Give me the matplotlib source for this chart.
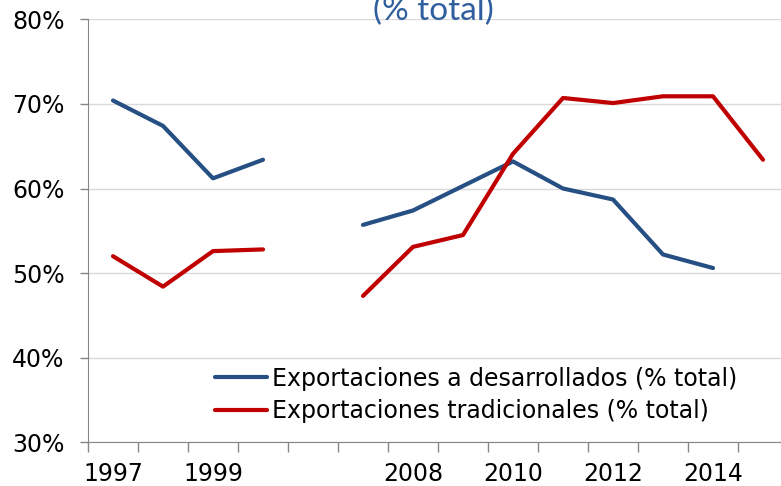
import numpy as np
import matplotlib
matplotlib.use("Agg")
import matplotlib.pyplot as plt

# categories (blank slot between 2000 and 2007 as in the original)
years = ["1997", "1998", "1999", "2000", "", "2007", "2008", "2009",
         "2010", "2011", "2012", "2013", "2014", "2015"]
tick_labels = ["1997", "1999", "", "2008", "2010", "2012", "2014"]

nan = np.nan
desarrollados = [70.4, 67.4, 61.2, 63.4, nan, 55.7, 57.4, 60.3,
                 63.2, 60.0, 58.7, 52.2, 50.6, nan]
tradicionales = [52.0, 48.4, 52.6, 52.8, nan, 47.3, 53.1, 54.5,
                 64.1, 70.7, 70.1, 70.9, 70.9, 63.4]

label_des = "Exportaciones a desarrollados (% total)"
label_tra = "Exportaciones tradicionales (% total)"

plt.rcParams["font.family"] = ["DejaVu Sans"]

W, H = 781, 486
fig = plt.figure(figsize=(W / 100, H / 100), dpi=100)
ax = fig.add_axes([88 / W, 1 - 442.3 / H, 700 / W, (442.3 - 19.3) / H])

x = np.arange(len(years))
ax.plot(x, desarrollados, color="#264F84", lw=3.0, label=label_des,
        solid_joinstyle="round", solid_capstyle="round")
ax.plot(x, tradicionales, color="#C00000", lw=3.0, label=label_tra,
        solid_joinstyle="round", solid_capstyle="round")

ax.set_xlim(-0.5, len(years) - 0.5)
ax.set_ylim(30, 80)
ax.set_yticks(np.arange(30, 81, 10))
ax.set_yticklabels([f"{v}%" for v in range(30, 81, 10)])
ax.yaxis.grid(True, color="#D9D9D9", lw=1)
ax.set_axisbelow(True)

# boundary ticks (no labels) and labels on every 2nd category
ax.set_xticks(np.arange(-0.5, len(years)), minor=False)
ax.set_xticklabels([])
ax.set_xticks(np.arange(0, 13, 2), minor=True)
ax.set_xticklabels(tick_labels, minor=True)
ax.tick_params(axis="x", which="major", length=7, width=1, color="#868686")
ax.tick_params(axis="x", which="minor", length=0, pad=14, labelsize=17)
ax.tick_params(axis="y", length=6, width=1, color="#868686", pad=11,
               labelsize=17)

for s in ["top", "right"]:
    ax.spines[s].set_visible(False)
for s in ["left", "bottom"]:
    ax.spines[s].set_color("#868686")

leg = ax.legend(loc="center left", bbox_to_anchor=(215 / W, 1 - 395 / H),
                bbox_transform=fig.transFigure, frameon=False, fontsize=17,
                borderpad=0, borderaxespad=0, handlelength=2.2,
                handletextpad=0.2, labelspacing=0.38)

fig.text(433 / W, 1 - 20 / H, "(% total)", ha="center", va="baseline",
         color="#2F5F9E", fontsize=24, family=["Lato", "DejaVu Sans"])

fig.savefig("out.png", dpi=100)
